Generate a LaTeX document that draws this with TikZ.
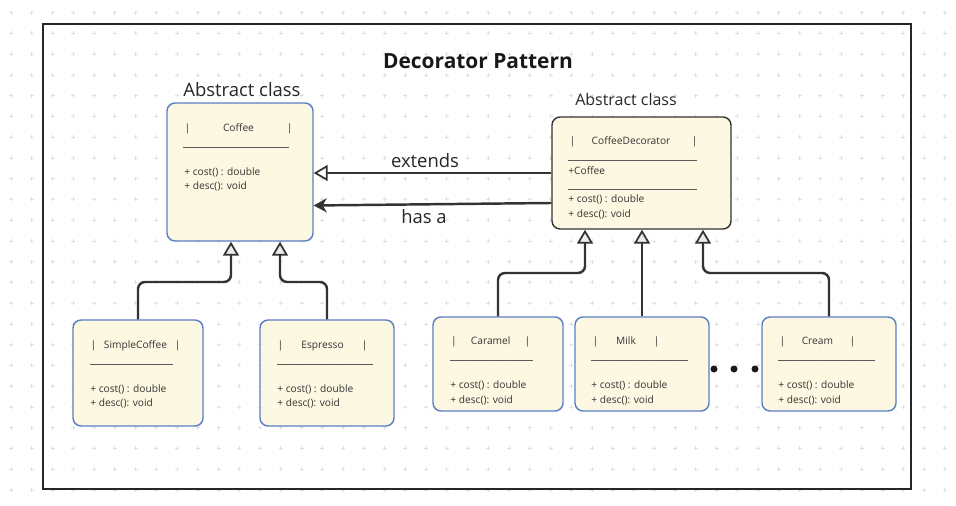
\documentclass[tikz,border=0pt]{standalone}
\usepackage{fontspec}
\setmainfont{Open Sans}
\usetikzlibrary{arrows.meta}
\usepackage{xcolor}
\definecolor{cream}{HTML}{FDF7DD}
\definecolor{boxblue}{HTML}{5A7EC6}
\definecolor{ink}{HTML}{333333}
\definecolor{gridgray}{HTML}{E0E0E0}

\begin{document}
\begin{tikzpicture}[
    x=0.02cm, y=-0.02cm,
    classbox/.style={
        draw=boxblue,
        line width=0.8pt,
        fill=cream,
        fill opacity=0.88,
        text opacity=1,
        rounded corners=0.16cm,
        inner sep=0pt,
    },
    header/.style={
        inner sep=0pt,
        font=\fontsize{5.8}{7}\selectfont,
        text=ink,
    },
    members/.style={
        anchor=west,
        inner sep=0pt,
        align=left,
        font=\fontsize{5.8}{8.2}\selectfont,
        text=ink,
    },
    rule/.style={draw=ink!80, line width=0.4pt},
    inherit/.style={
        draw=ink,
        line width=1.4pt,
        rounded corners=0.14cm,
        -{Triangle[length=0.28cm, width=0.32cm, fill=black!8, line width=1pt]},
    },
    caption/.style={font=\fontsize{10.5}{12}\selectfont, text=black!85},
]
\useasboundingbox (0,0) rectangle (956,506);

% dotted canvas and outer frame
\foreach \i in {0,...,45} {
    \foreach \j in {0,...,23} {
        \draw[gridgray, line width=0.35pt] (11+20.75*\i, 12.7+20.75*\j) +(-2,0) -- +(2,0) +(0,-2) -- +(0,2);
    }
}
\draw[line width=1.5pt, draw=black!85] (43,24) rectangle (911,489);

\node[font=\fontsize{11.9}{14}\selectfont\bfseries, text=black!90] (title) at (478,61.5) {Decorator Pattern};

% abstract classes
\node[caption] (coffee-lbl) at (242,89.5) {Abstract class};
\node[classbox, minimum width=2.92cm, minimum height=2.76cm] (coffee) at (240,172) {};
\node[header] (coffee-h) at (238.5,129) {\makebox[2.16cm]{|\hfill Coffee\hfill|}};
\draw[rule] (183,147) -- (289,147);
\node[members] (coffee-m) at (184,179.5) {+ cost() : double\\+ desc(): void};

\node[caption, font=\fontsize{9.1}{11}\selectfont] (deco-lbl) at (626,99.5) {Abstract class};
\node[classbox, draw=ink, minimum width=3.58cm, minimum height=2.24cm] (deco) at (641.5,173) {};
\node[header] (deco-h) at (633.5,142) {\makebox[2.56cm]{|\hfill CoffeeDecorator\hfill\hspace{0.1cm}|}};
\draw[rule] (568,160) -- (697,160);
\node[members] (deco-f) at (568,171) {+Coffee};
\draw[rule] (568,189) -- (697,189);
\node[members] (deco-m) at (568,207) {+ cost() : double\\+ desc(): void};

% concrete classes
\node[classbox, minimum width=2.6cm, minimum height=2.12cm] (simple) at (138,373) {};
\node[header] (simple-h) at (135.5,346) {\makebox[1.8cm]{|\hfill SimpleCoffee\hfill|}};
\draw[rule] (90,364) -- (173,364);
\node[members] (simple-m) at (90,396.5) {+ cost() : double\\+ desc(): void};

\node[classbox, minimum width=2.68cm, minimum height=2.12cm] (espresso) at (327,373) {};
\node[header] (espresso-h) at (322.5,346) {\makebox[1.8cm]{|\hfill Espresso\hfill|}};
\draw[rule] (277,364) -- (373,364);
\node[members] (espresso-m) at (277,396.5) {+ cost() : double\\+ desc(): void};

\node[classbox, minimum width=2.6cm, minimum height=1.88cm] (caramel) at (498,364) {};
\node[header] (caramel-h) at (490.7,342) {\makebox[1.58cm]{|\hfill Caramel\hfill|}};
\draw[rule] (450,360) -- (533,360);
\node[members] (caramel-m) at (450,393) {+ cost() : double\\+ desc(): void};

\node[classbox, minimum width=2.68cm, minimum height=1.88cm] (milk) at (642,364) {};
\node[header] (milk-h) at (626,342) {\makebox[1.34cm]{|\hfill Milk\hfill|}};
\draw[rule] (591,360) -- (688,360);
\node[members] (milk-m) at (591,393) {+ cost() : double\\+ desc(): void};

\node[classbox, minimum width=2.68cm, minimum height=1.88cm] (cream) at (829,364) {};
\node[header] (cream-h) at (817.4,342) {\makebox[1.51cm]{|\hfill Cream\hfill|}};
\draw[rule] (778,360) -- (875,360);
\node[members] (cream-m) at (778,393) {+ cost() : double\\+ desc(): void};

\foreach \x in {714,734,755} {
    \fill[black!90] (\x,369) circle (0.07cm);
}

% relations
\draw[draw=ink, line width=1.4pt, -{Triangle[length=0.28cm, width=0.32cm, fill=white, line width=1pt]}] (deco.west) -- (deco.west -| coffee.east);
\node[caption] (extends-lbl) at (425,160.5) {extends};
\draw[draw=ink, line width=1.4pt, -{Stealth[length=0.26cm, width=0.28cm, inset=0.08cm]}] ([yshift=-0.6cm]deco.west) -- ([yshift=-0.67cm]coffee.east);
\node[caption] (hasa-lbl) at (424,216.5) {has a};

\coordinate (j1) at (231,282);
\coordinate (j2) at (280,282);
\coordinate (j3) at (585,273);
\coordinate (j4) at (703,273);
\draw[inherit] (simple.north) |- (j1) -- (j1 |- coffee.south);
\draw[inherit] (espresso.north) |- (j2) -- (j2 |- coffee.south);
\draw[inherit] (caramel.north) |- (j3) -- (j3 |- deco.south);
\draw[inherit] (milk.north) -- (milk.north |- deco.south);
\draw[inherit] (cream.north) |- (j4) -- (j4 |- deco.south);

\end{tikzpicture}
\end{document}
